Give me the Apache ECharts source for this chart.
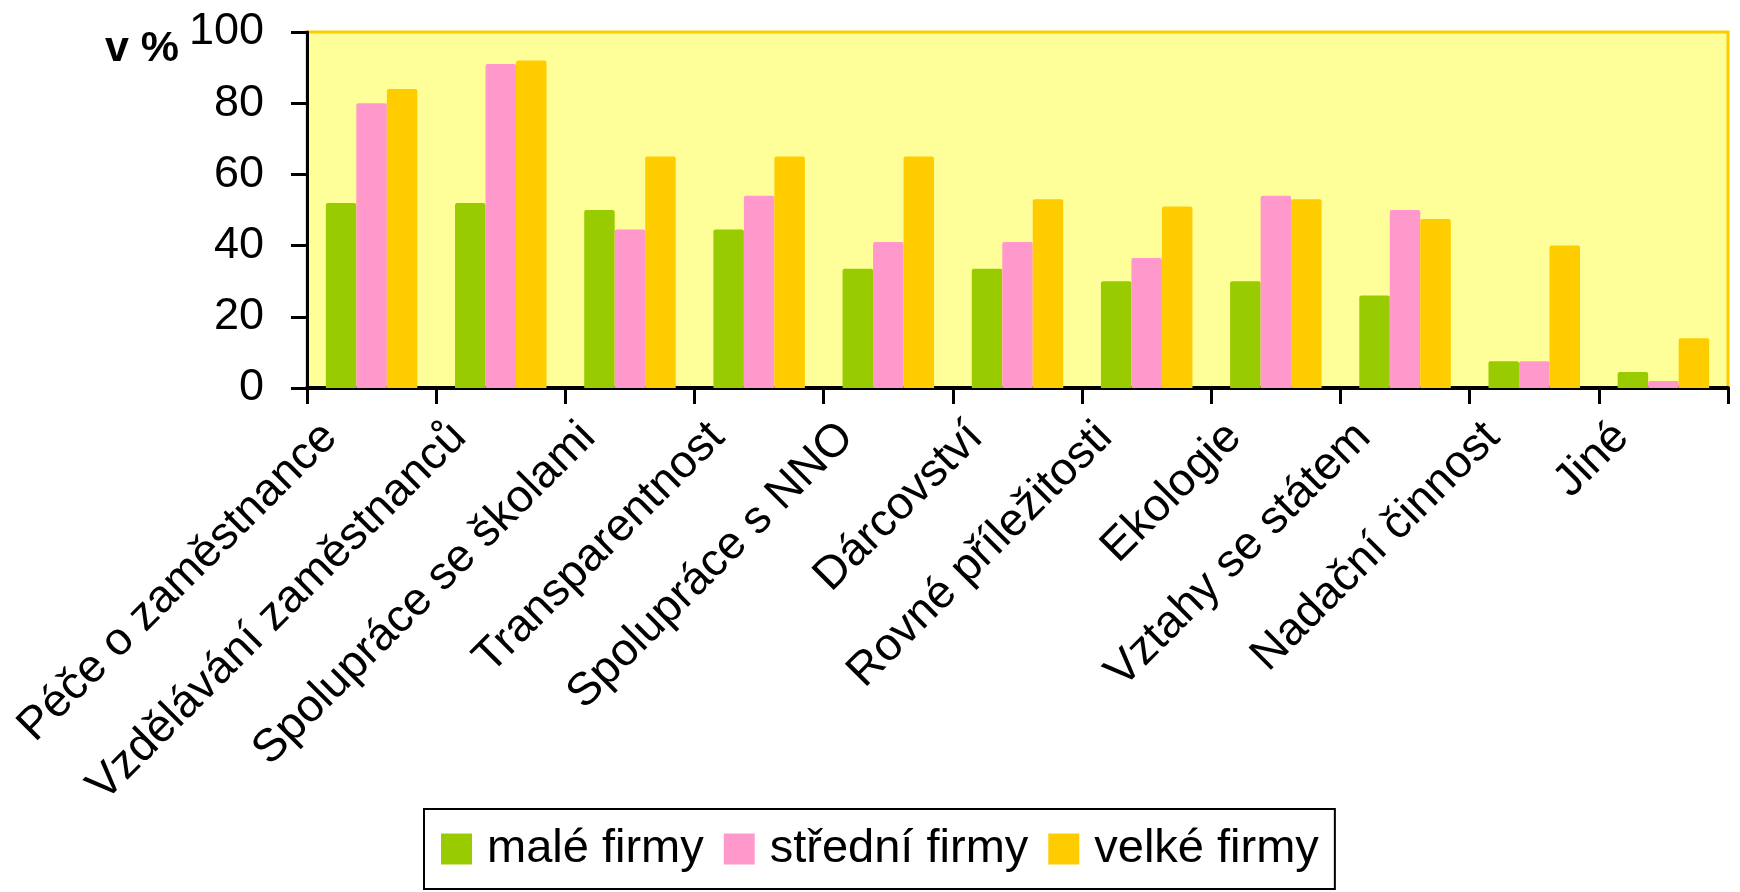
<!DOCTYPE html>
<html>
<head>
<meta charset="utf-8">
<script src="https://cdn.jsdelivr.net/npm/echarts@6/dist/echarts.min.js"></script>
<style>
html,body{margin:0;padding:0;background:#fff;}
#chart{width:1740px;height:892px;}
</style>
</head>
<body>
<div id="chart"></div>
<script>
const categories = ['Péče o zaměstnance','Vzdělávání zaměstnanců','Spolupráce se školami','Transparentnost','Spolupráce s NNO','Dárcovství','Rovné příležitosti','Ekologie','Vztahy se státem','Nadační činnost','Jiné'];
const seriesNames = ['malé firmy','střední firmy','velké firmy'];
const maleFirmy =    [52, 52, 50, 44.5, 33.5, 33.5, 30, 30, 26, 7.5, 4.5];
const stredniFirmy = [80, 91, 44.5, 54, 41, 41, 36.5, 54, 50, 7.5, 2];
const velkeFirmy =   [84, 92, 65, 65, 65, 53, 51, 53, 47.5, 40, 14];
const yTicks = [0, 20, 40, 60, 80, 100];
const yAxisTitle = 'v %';

const colors = ['#99CC00', '#FF99CC', '#FFCC00'];
const font = 'Liberation Sans, Arial, sans-serif';

const chart = echarts.init(document.getElementById('chart'), null, {renderer: 'canvas'});
const values = [maleFirmy, stredniFirmy, velkeFirmy];

chart.setOption({
  animation: false,
  title: {
    text: yAxisTitle,
    left: 100,
    top: 23,
    textStyle: {fontFamily: font, fontSize: 43, fontWeight: 'bold', color: '#000'}
  },
  grid: {
    left: 307, right: 12, top: 32, bottom: 504,
    show: true,
    backgroundColor: '#FFFF99',
    borderColor: '#FFCC00',
    borderWidth: 3
  },
  legend: {
    data: seriesNames,
    left: 424,
    top: 809,
    orient: 'horizontal',
    itemWidth: 31,
    itemHeight: 31,
    itemGap: 20,
    padding: [14, 16, 14, 17],
    borderColor: '#000',
    borderWidth: 2,
    backgroundColor: '#fff',
    icon: 'rect',
    textStyle: {fontFamily: font, fontSize: 47, color: '#000', padding: [0, 0, 0, 10], lineHeight: 52}
  },
  xAxis: {
    type: 'category',
    data: categories,
    boundaryGap: true,
    axisLine: {show: true, lineStyle: {color: '#000', width: 4}},
    axisTick: {show: true, alignWithLabel: false, length: 16, lineStyle: {color: '#000', width: 3}},
    axisLabel: {
      interval: 0,
      rotate: 45,
      margin: 33,
      verticalAlign: 'bottom',
      fontFamily: font,
      fontSize: 46,
      color: '#000',
      padding: [0, 36, 0, 0]
    },
    splitLine: {show: false}
  },
  yAxis: {
    type: 'value',
    min: yTicks[0],
    max: yTicks[yTicks.length - 1],
    interval: 20,
    axisLine: {show: true, lineStyle: {color: '#000', width: 3}},
    axisTick: {show: true, length: 16, lineStyle: {color: '#000', width: 3}},
    axisLabel: {margin: 43, fontFamily: font, fontSize: 45, color: '#000'},
    splitLine: {show: false}
  },
  series: seriesNames.map((name, i) => ({
    name: name,
    type: 'bar',
    data: values[i],
    barWidth: 30.5,
    barGap: '0%',
    itemStyle: {color: colors[i], borderRadius: [2, 2, 0, 0]}
  }))
});
</script>
</body>
</html>
